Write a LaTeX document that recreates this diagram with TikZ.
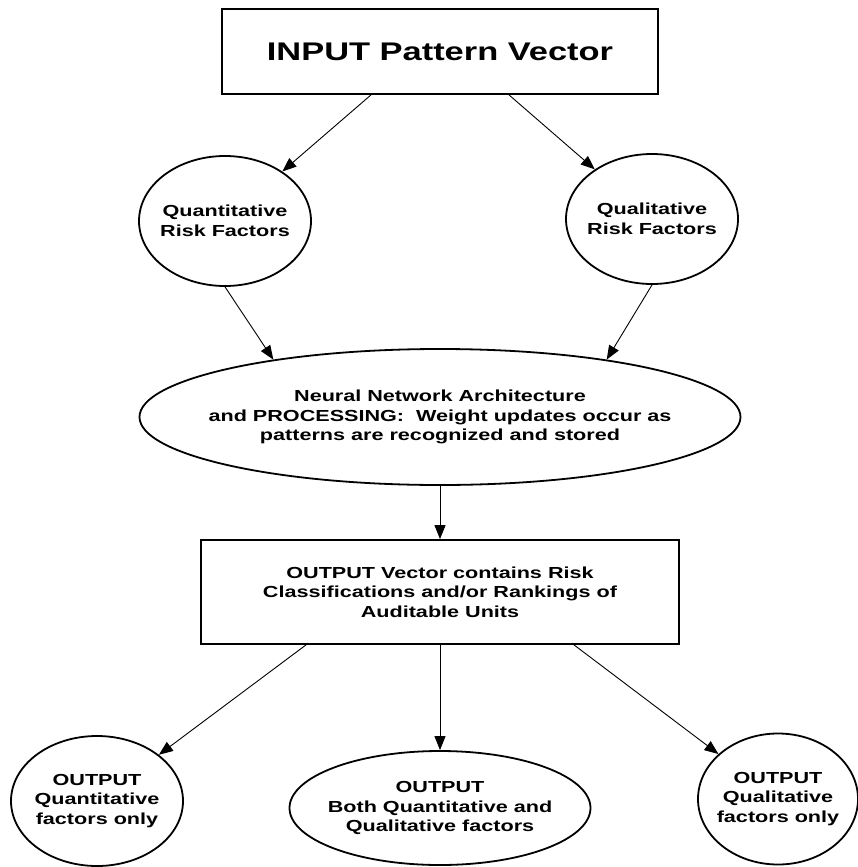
\documentclass[tikz,border=0pt]{standalone}
\usepackage{fontspec}
\newfontfamily\dfont[FakeStretch=1.35]{Liberation Sans}
\usetikzlibrary{shapes.geometric,arrows.meta}
\begin{document}
\begin{tikzpicture}[x=1pt,y=-1pt,
  txt/.style={font=\dfont\bfseries\fontsize{16}{19.5}\selectfont, align=center},
  boxnode/.style={draw, line width=1.8pt, rectangle, inner sep=0pt, txt},
  ellnode/.style={draw, line width=1.8pt, ellipse, inner xsep=-25pt, inner ysep=0pt, txt},
  conn/.style={line width=0.9pt, -{Triangle[length=14pt,width=11pt]}}]
\useasboundingbox (0,0) rectangle (858,867);
\node[boxnode, minimum width=436pt, minimum height=85pt,
  font=\dfont\bfseries\fontsize{25.5}{30}\selectfont] (top) at (440,51.5) {INPUT Pattern Vector};
\node[ellnode, minimum width=172pt, minimum height=130pt] (qe) at (225,221) {Quantitative\\Risk Factors};
\node[ellnode, minimum width=172pt, minimum height=130pt] (ql) at (652,219) {Qualitative\\Risk Factors};
\node[ellnode, minimum width=601pt, minimum height=136pt] (nn) at (440,417)
  {Neural Network Architecture\\and PROCESSING:\ \ Weight updates occur as\\patterns are recognized and stored};
\node[boxnode, minimum width=478pt, minimum height=104pt] (ob) at (440,592)
  {OUTPUT Vector contains Risk\\Classifications and/or Rankings of\\Auditable Units};
\node[ellnode, minimum width=172pt, minimum height=130pt] (o1) at (97,801) {OUTPUT\\Quantitative\\factors only};
\node[ellnode, minimum width=301pt, minimum height=114pt] (o2) at (440,808) {OUTPUT\\Both Quantitative and\\Qualitative factors};
\node[ellnode, minimum width=160pt, minimum height=131pt] (o3) at (778,799) {OUTPUT\\Qualitative\\factors only};
\draw[conn] ([xshift=-69pt]top.south) -- (qe);
\draw[conn] ([xshift=69pt]top.south) -- (ql);
\draw[conn] (qe.south) -- (nn.161);
\draw[conn] (ql.south) -- (nn.19.4);
\draw[conn] (nn.south) -- (ob.north);
\draw[conn] ([xshift=-134pt]ob.south) -- (o1);
\draw[conn] (ob.south) -- (o2.north);
\draw[conn] ([xshift=134pt]ob.south) -- (o3);
\end{tikzpicture}
\end{document}
